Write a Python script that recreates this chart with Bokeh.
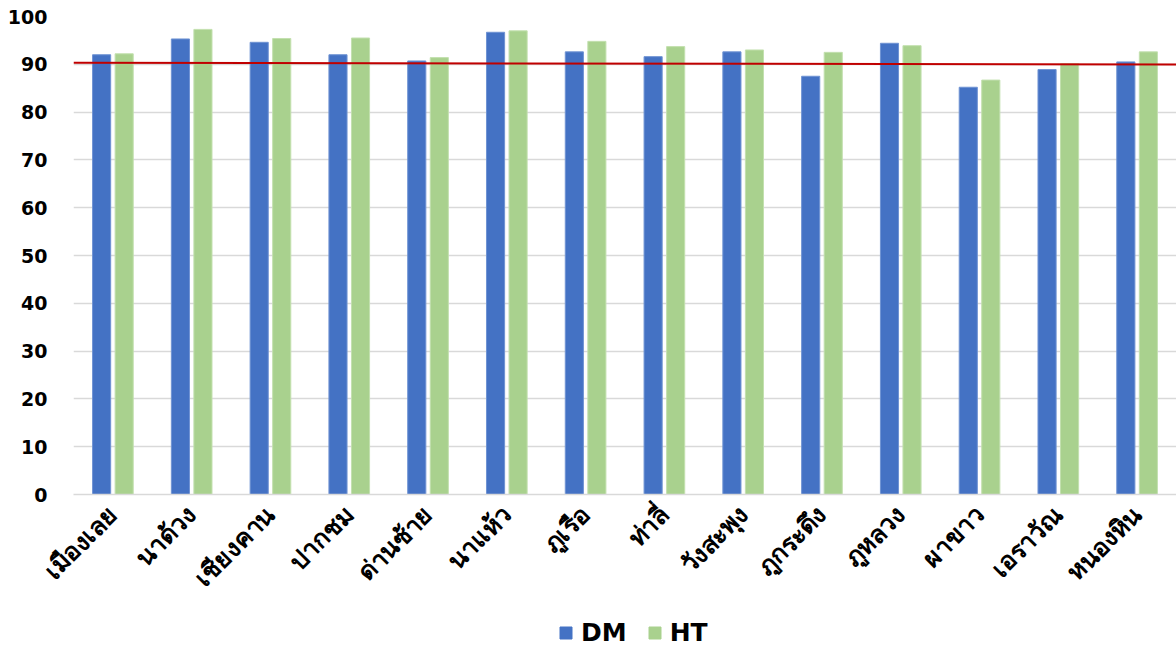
from bokeh.plotting import figure
from bokeh.layouts import column
from bokeh.models import Range1d, FixedTicker, Legend, LegendItem, ColumnDataSource
from bokeh.embed import file_html
from bokeh.resources import INLINE
import math

districts = ["เมืองเลย", "นาด้วง", "เชียงคาน", "ปากชม", "ด่านซ้าย", "นาแห้ว", "ภูเรือ",
             "ท่าลี่", "วังสะพุง", "ภูกระดึง", "ภูหลวง", "ผาขาว", "เอราวัณ", "หนองหิน"]
dm = [92.0, 95.3, 94.6, 92.0, 90.7, 96.7, 92.6, 91.6, 92.6, 87.5, 94.4, 85.2, 88.9, 90.5]
ht = [92.2, 97.3, 95.4, 95.5, 91.4, 97.0, 94.8, 93.7, 93.0, 92.5, 93.9, 86.7, 90.1, 92.6]
target_ends = [90.35, 89.95]
y_ticks = [0, 10, 20, 30, 40, 50, 60, 70, 80, 90, 100]
series = ["DM", "HT"]
colors = ["#4472C4", "#A9D18E"]
edges = ["#6F93D3", "#C3E0AF"]

n = len(districts)
centers = [i + 0.5 for i in range(n)]
offset = 0.143
bar_w = 0.23

FONT = "DejaVu Sans"

p = figure(frame_width=1103, frame_height=478, output_backend="svg", toolbar_location=None,
           x_range=Range1d(0, n), y_range=Range1d(0, 100),
           min_border_left=73, min_border_right=0, min_border_top=16, min_border_bottom=106)
p.outline_line_color = None
p.background_fill_color = "white"
p.border_fill_color = "white"

src = ColumnDataSource(dict(
    x_dm=[c - offset for c in centers], x_ht=[c + offset for c in centers],
    dm=dm, ht=ht))

p.vbar(x="x_dm", top="dm", width=bar_w, source=src,
       fill_color=colors[0], line_color=edges[0], line_width=1)
p.vbar(x="x_ht", top="ht", width=bar_w, source=src,
       fill_color=colors[1], line_color=edges[1], line_width=1)

# reference line across the plot
p.line(x=[0, n], y=target_ends, line_color="#C00000", line_width=2)

# axes
p.xaxis.ticker = FixedTicker(ticks=centers)
p.xaxis.major_label_overrides = {c: name for c, name in zip(centers, districts)}
p.xaxis.major_label_orientation = math.pi / 4
p.xaxis.major_label_text_font = FONT
p.xaxis.major_label_text_font_style = "bold"
p.xaxis.major_label_text_font_size = "25px"
p.xaxis.major_label_text_color = "black"
p.xaxis.major_label_standoff = 10
p.xaxis.major_tick_line_color = None
p.xaxis.minor_tick_line_color = None
p.xaxis.axis_line_color = "#D9D9D9"
p.xaxis.axis_line_width = 1.5

p.yaxis.ticker = FixedTicker(ticks=y_ticks)
p.yaxis.major_label_text_font = FONT
p.yaxis.major_label_text_font_style = "bold"
p.yaxis.major_label_text_font_size = "19px"
p.yaxis.major_label_text_color = "black"
p.yaxis.major_label_standoff = 20
p.yaxis.major_tick_line_color = None
p.yaxis.minor_tick_line_color = None
p.yaxis.axis_line_color = None

p.xgrid.grid_line_color = None
p.ygrid.ticker = FixedTicker(ticks=y_ticks)
p.ygrid.grid_line_color = "#D9D9D9"
p.ygrid.grid_line_width = 1.5

# legend strip under the chart; the swatch renderers hold one point outside the view
leg = figure(width=1176, height=646 - (16 + 478 + 106), output_backend="svg",
             toolbar_location=None, x_range=Range1d(0, 1), y_range=Range1d(0, 1),
             min_border=0)
leg.outline_line_color = None
leg.axis.visible = False
leg.grid.visible = False
swatches = [leg.vbar(x=[-5], top=[-5], width=0.1, fill_color=c, line_color=c) for c in colors]
legend = Legend(items=[LegendItem(label=s, renderers=[r]) for s, r in zip(series, swatches)],
                orientation="horizontal", location=(485, 4),
                label_text_font=FONT, label_text_font_style="bold",
                label_text_font_size="25px", label_text_color="black",
                glyph_width=15, glyph_height=15, spacing=20, label_standoff=8,
                border_line_color=None, background_fill_alpha=0,
                margin=0, padding=4)
leg.add_layout(legend)

open("out.html", "w").write(file_html(column(p, leg, spacing=0), INLINE))
